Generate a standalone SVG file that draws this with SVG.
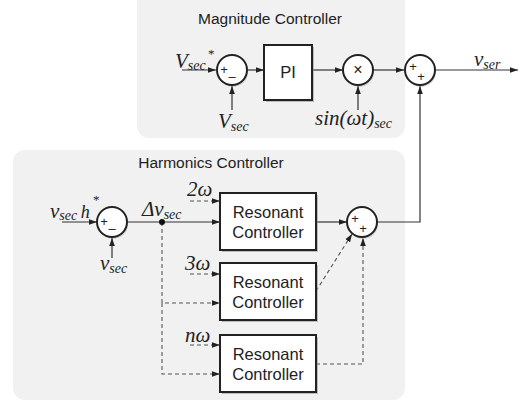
<svg xmlns="http://www.w3.org/2000/svg" width="525" height="403" viewBox="0 0 525 403">
<defs>
<marker id="ah" viewBox="0 0 10 10" refX="10" refY="5" markerWidth="8" markerHeight="8" markerUnits="userSpaceOnUse" orient="auto"><path d="M0,1.5 L10,5 L0,8.5 z" fill="#222"/></marker>
</defs>
<style>
.panel{fill:#f1f1f1;stroke:none}
.title{font-family:"Liberation Sans",Arial,sans-serif;font-size:15.5px;fill:#222;text-anchor:middle}
.box{fill:#fff;stroke:#222;stroke-width:2}
.shadow{fill:#999;opacity:0.6}
.btxt{font-family:"Liberation Sans",Arial,sans-serif;font-size:16.5px;fill:#222;text-anchor:middle}
.circ{fill:#fff;stroke:#222;stroke-width:2}
.sign{font-family:"Liberation Sans",Arial,sans-serif;font-size:13px;fill:#222;text-anchor:middle}
.ln{fill:none;stroke:#333;stroke-width:1.2}
.dash{fill:none;stroke:#555;stroke-width:1.1;stroke-dasharray:4,3}
.lab{font-family:"Liberation Serif","Times New Roman",serif;font-style:italic;font-size:21px;fill:#222}
.sub{font-size:14px}
</style>
<rect class="panel" x="137" y="-12" width="268" height="150" rx="12"/>
<rect class="panel" x="13" y="150" width="392" height="250" rx="12"/>
<text class="title" x="270" y="24">Magnitude Controller</text>
<text class="title" x="211" y="168">Harmonics Controller</text>

<g id="connectors">
<path class="ln" d="M182,70 H216" marker-end="url(#ah)"/>
<path class="ln" d="M232,110 V86" marker-end="url(#ah)"/>
<path class="ln" d="M247,70 H264" marker-end="url(#ah)"/>
<path class="ln" d="M312,70 H343" marker-end="url(#ah)"/>
<path class="ln" d="M358,110 V86" marker-end="url(#ah)"/>
<path class="ln" d="M373,70 H404" marker-end="url(#ah)"/>
<path class="ln" d="M435,70 H518" marker-end="url(#ah)"/>
<path class="ln" d="M377,222 H420 V86" marker-end="url(#ah)"/>
<path class="ln" d="M62,222 H97" marker-end="url(#ah)"/>
<path class="ln" d="M112,258 V238" marker-end="url(#ah)"/>
<path class="ln" d="M127,222 H220" marker-end="url(#ah)"/>
<path class="ln" d="M316,222 H347" marker-end="url(#ah)"/>
<path class="dash" d="M162,222 V303 H220" marker-end="url(#ah)"/>
<path class="dash" d="M162,303 V374 H220" marker-end="url(#ah)"/>
<path class="dash" d="M190,201 H220" marker-end="url(#ah)"/>
<path class="dash" d="M190,274 H220" marker-end="url(#ah)"/>
<path class="dash" d="M190,345 H220" marker-end="url(#ah)"/>
<path class="dash" d="M316,291 L352,234" marker-end="url(#ah)"/>
<path class="dash" d="M316,364 H363 V238" marker-end="url(#ah)"/>
<circle cx="162" cy="222" r="3" fill="#111"/>
</g>

<g id="sum1">
<circle cx="233" cy="72" r="15" fill="#aaa" opacity="0.5"/>
<circle class="circ" cx="232" cy="70" r="15"/>
<text class="sign" x="224" y="74">+</text>
<text class="sign" x="232" y="81">–</text>
</g>
<g id="pi">
<rect class="shadow" x="266" y="47" width="48" height="55"/>
<rect class="box" x="264" y="45" width="48" height="55"/>
<text class="btxt" x="288" y="78">PI</text>
</g>
<g id="mult">
<circle cx="359" cy="72" r="15" fill="#aaa" opacity="0.5"/>
<circle class="circ" cx="358" cy="70" r="15"/>
<text class="sign" x="358" y="75" style="font-size:16px">×</text>
</g>
<g id="sum3">
<circle cx="421" cy="72" r="15" fill="#aaa" opacity="0.5"/>
<circle class="circ" cx="420" cy="70" r="15"/>
<text class="sign" x="413" y="71">+</text>
<text class="sign" x="421" y="81">+</text>
</g>

<g id="sumh1">
<circle cx="113" cy="224" r="15" fill="#aaa" opacity="0.5"/>
<circle class="circ" cx="112" cy="222" r="15"/>
<text class="sign" x="104" y="226">+</text>
<text class="sign" x="112" y="233">–</text>
</g>
<g id="sumh2">
<circle cx="363" cy="224" r="15" fill="#aaa" opacity="0.5"/>
<circle class="circ" cx="362" cy="222" r="15"/>
<text class="sign" x="355" y="223">+</text>
<text class="sign" x="363" y="233">+</text>
</g>
<g id="res1">
<rect class="shadow" x="222" y="195" width="96" height="57"/>
<rect class="box" x="220" y="193" width="96" height="57"/>
<text class="btxt" x="268" y="218">Resonant</text>
<text class="btxt" x="268" y="238">Controller</text>
</g>
<g id="res2">
<rect class="shadow" x="222" y="265" width="96" height="57"/>
<rect class="box" x="220" y="263" width="96" height="57"/>
<text class="btxt" x="268" y="288">Resonant</text>
<text class="btxt" x="268" y="308">Controller</text>
</g>
<g id="res3">
<rect class="shadow" x="222" y="337" width="96" height="57"/>
<rect class="box" x="220" y="335" width="96" height="57"/>
<text class="btxt" x="268" y="360">Resonant</text>
<text class="btxt" x="268" y="380">Controller</text>
</g>

<g id="labels">
<text class="lab" x="175" y="68">V<tspan class="sub" dy="2">sec</tspan></text>
<text class="lab" x="208" y="58" style="font-size:13px;font-style:normal">*</text>
<text class="lab" x="218" y="128">V<tspan class="sub" dy="3">sec</tspan></text>
<text class="lab" x="315" y="125">sin(ωt)<tspan class="sub" dy="3">sec</tspan></text>
<text class="lab" x="474" y="66">v<tspan class="sub" dy="3">ser</tspan></text>
<text class="lab" x="50" y="218">v<tspan class="sub" dy="2">sec </tspan><tspan dy="-2" class="sub" style="font-size:18px">h</tspan></text>
<text class="lab" x="93" y="204" style="font-size:13px;font-style:normal">*</text>
<text class="lab" x="100" y="270">v<tspan class="sub" dy="3">sec</tspan></text>
<text class="lab" x="142" y="216">Δv<tspan class="sub" dy="3">sec</tspan></text>
<text class="lab" x="187" y="196">2ω</text>
<text class="lab" x="185" y="270">3ω</text>
<text class="lab" x="185" y="342">nω</text>
</g>
</svg>
